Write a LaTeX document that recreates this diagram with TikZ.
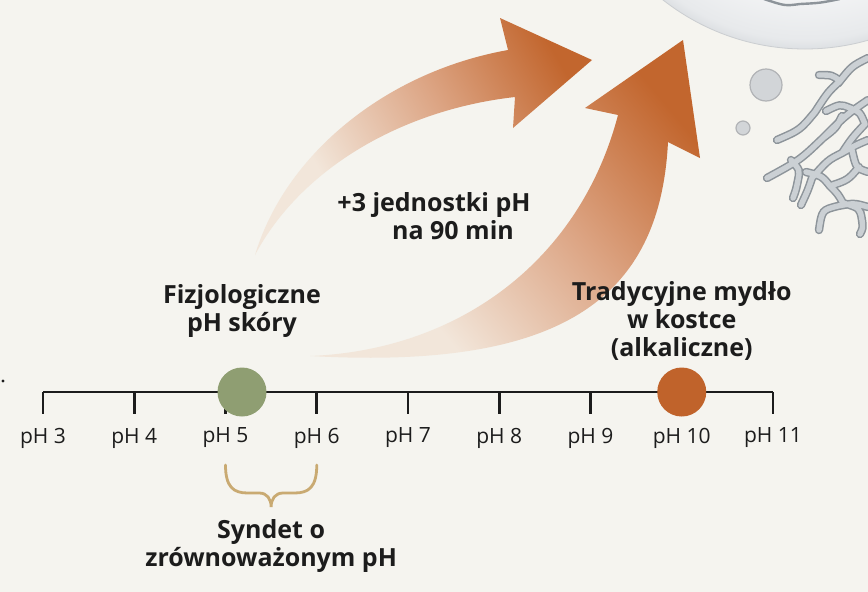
\documentclass[tikz,border=0pt]{standalone}
\usepackage{fontspec}
\setmainfont{Open Sans}
\usetikzlibrary{calc, positioning}

\definecolor{paper}{HTML}{F5F4EF}
\definecolor{ink}{HTML}{1C1C1C}
\definecolor{sage}{HTML}{8F9E72}
\definecolor{rust}{HTML}{C0632B}
\definecolor{tan}{HTML}{C9AA72}
\definecolor{arrowtail}{HTML}{F2E6DA}
\definecolor{arrowmid}{HTML}{DCA483}
\definecolor{arrowhead}{HTML}{C2662E}
\definecolor{spherein}{HTML}{F3F4F5}
\definecolor{sphereout}{HTML}{DDE0E3}
\definecolor{fiberedge}{HTML}{8D949A}
\definecolor{fibercore}{HTML}{CBD0D4}

\pgfdeclarehorizontalshading{arrowshade}{100bp}{color(0bp)=(arrowtail); color(32bp)=(arrowtail); color(55bp)=(arrowmid); color(76bp)=(arrowhead); color(100bp)=(arrowhead)}
\pgfdeclareradialshading{sphereshade}{\pgfpoint{0bp}{0bp}}{color(0bp)=(white); color(19bp)=(spherein); color(24bp)=(sphereout!70!white); color(25bp)=(sphereout); color(50bp)=(sphereout)}

% fibre network in the upper right corner
\newcommand{\meshfibers}{
    (819,75) .. controls (832,75) .. (840,81) .. controls (852,66) .. (868,58)
    (777,140) .. controls (800,130) .. (815,112) .. controls (828,92) .. (840,81)
    (767,178) .. controls (800,160) .. (823,138) .. controls (846,115) .. (868,100)
    (826,111) .. controls (840,104) .. (850,108) .. controls (860,112) .. (865,124)
    (823,138) .. controls (836,128) .. (842,116)
    (791,160) .. controls (800,170) .. (798,180) .. controls (796,190) .. (793,198)
    (806,172) .. controls (822,176) .. (830,186) .. controls (838,194) .. (843,203)
    (801,205) .. controls (808,190) .. (812,178) .. controls (828,160) .. (842,153) .. controls (856,145) .. (868,140)
    (842,153) .. controls (852,138) .. (865,124)
    (819,230) .. controls (822,210) .. (838,206) .. controls (854,203) .. (868,207)
    (843,203) .. controls (860,208) .. (862,220) .. controls (863,228) .. (860,234)
    (852,150) .. controls (856,168) .. (868,172)
    (830,186) .. controls (848,180) .. (859,167)
}

\begin{document}
\begin{tikzpicture}[x=1pt, y=-1pt]
    % --- Canvas ---
    \useasboundingbox (0,0) rectangle (868,592);
    \fill[paper] (0,0) rectangle (868,592);
    \clip (0,0) rectangle (868,592);

    % --- Styles ---
    \tikzstyle{axis_line}=[line width=2.6pt, color=ink]
    \tikzstyle{tick_label}=[text=ink, inner sep=0pt, font=\fontsize{21}{25}\selectfont]
    \tikzstyle{bold_label}=[text=ink, inner sep=0pt, align=center, font=\fontsize{25}{28}\selectfont\bfseries]
    \tikzstyle{ph_dot}=[circle, inner sep=0pt, minimum size=49pt]
    \tikzstyle{flow_arrow}=[shading=arrowshade]
    \tikzstyle{syndet_brace}=[line width=2.8pt, color=tan, line cap=round]
    \tikzstyle{bubble}=[fill=sphereout!95!black, draw=sphereout!80!black, line width=1.2pt]

    % --- Definitions ---
    \coordinate (axis_left) at (43,392);
    \coordinate (axis_right) at (773,392);

    % --- 1. Decoration in the corner ---
    \shade[shading=sphereshade] (805,-181) circle (230);
    \draw[sphereout!92!black, line width=0.8pt] (805,-181) circle (230);
    \draw[fiberedge, line width=2.4pt] (764,-1) .. controls (785,6) .. (800,4) .. controls (820,3) .. (840,-1);
    \filldraw[bubble] (766,85) circle (16);
    \filldraw[bubble] (743,128) circle (7);
    \draw[fiberedge, line width=8.4pt, line cap=round] \meshfibers;
    \draw[fibercore, line width=5.4pt, line cap=round] \meshfibers;

    % --- 2. The two rising arrows ---
    \shade[flow_arrow, shading angle=30] (255,255) .. controls (285,155) and (385,72) .. (508,50)
        -- (500,18) -- (592,60) -- (513,128) -- (515,97)
        .. controls (400,110) and (300,170) .. cycle;
    \shade[flow_arrow, shading angle=40] (310,356) .. controls (460,350) and (580,260) .. (618,115)
        -- (585,108) -- (683,40) -- (700,158) -- (668,142)
        .. controls (660,300) and (560,370) .. cycle;

    % --- 3. The pH scale ---
    \draw[axis_line] (axis_left) -- (axis_right);
    \foreach \v [count=\i from 0] in {3,...,11} {
        \coordinate (tick\v) at ($(axis_left)+(91.25*\i,0)$);
        \draw[axis_line] (tick\v) -- ++(0,22);
        \node[tick_label] (ph\v) at ($(tick\v)+(0,46)$) {pH \v};
    }
    \fill[ink] (3,381) circle (1.6);

    % skin and soap markers
    \node[ph_dot, fill=sage] (skin_dot) at (242,392) {};
    \node[ph_dot, fill=rust] (soap_dot) at (tick10) {};

    % --- 4. Annotations ---
    \node[bold_label, above=30pt of skin_dot] (skin_label) {Fizjologiczne\\pH skóry};
    \node[bold_label, above=7pt of soap_dot] (soap_label) {Tradycyjne mydło\\w kostce\\(alkaliczne)};
    \node[bold_label] (jump_label) at (434,216) {+3 jednostki pH\\\hspace*{38pt}na 90 min};

    % syndet range brace
    \coordinate (brace_left) at ($(tick5)+(0,73)$);
    \coordinate (brace_right) at ($(tick6)+(0,73)$);
    \coordinate (brace_tip) at ($(brace_left)!0.5!(brace_right)+(0,42)$);
    \draw[syndet_brace] (brace_left) .. controls +(0,22) and +(-14,0) .. ($(brace_left)+(22,28)$)
        -- ($(brace_tip)+(-12,-14)$) .. controls +(8,0) and +(0,-8) .. (brace_tip)
        .. controls +(0,-8) and +(-8,0) .. ($(brace_tip)+(12,-14)$)
        -- ($(brace_right)+(-22,28)$) .. controls +(14,0) and +(0,22) .. (brace_right);
    \node[bold_label, below=12pt of brace_tip] (syndet_label) {Syndet o\\zrównoważonym pH};

\end{tikzpicture}
\end{document}
